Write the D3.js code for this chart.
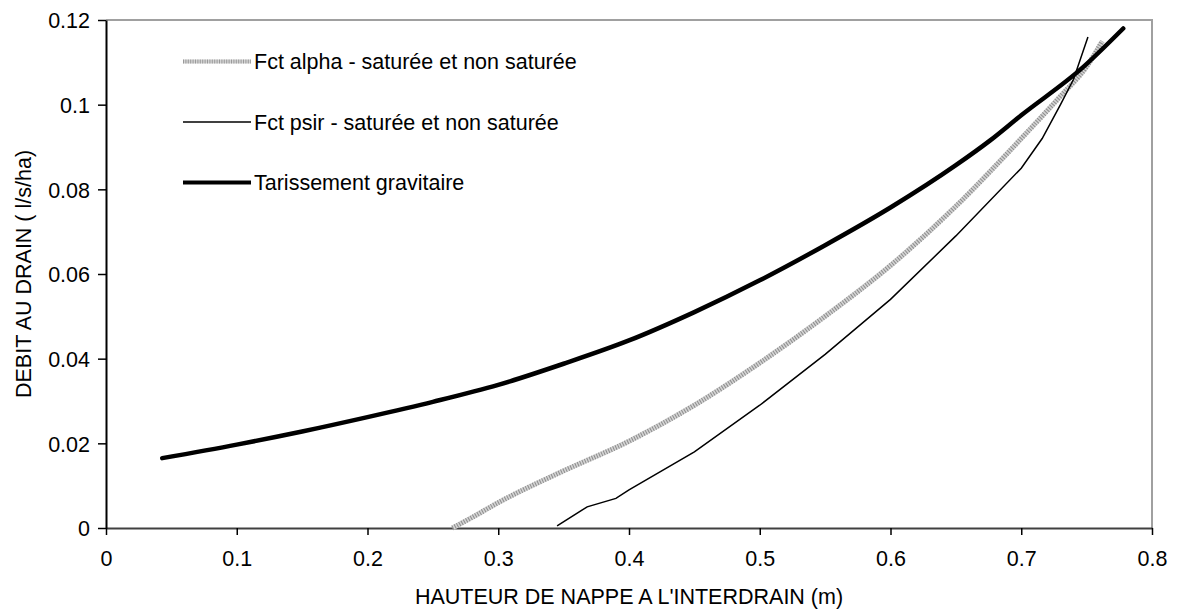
<!DOCTYPE html>
<html>
<head>
<meta charset="utf-8">
<script src="https://cdn.jsdelivr.net/npm/d3@7"></script>
<style>
  html, body { margin: 0; padding: 0; background: #fff; }
  svg { display: block; font-family: "Liberation Sans", Arial, sans-serif; }
</style>
</head>
<body>
<svg id="chart" width="1179" height="609"></svg>
<script>
// Water-table height at mid-drain (m) vs drain discharge (l/s/ha)
const alphaX = [0.265, 0.28, 0.30, 0.35, 0.40, 0.45, 0.50, 0.55, 0.60, 0.65, 0.70, 0.73, 0.75, 0.762];
const alphaY = [0.000, 0.0025, 0.006, 0.0135, 0.0205, 0.029, 0.039, 0.050, 0.062, 0.076, 0.092, 0.102, 0.109, 0.115];

const psirX = [0.345, 0.368, 0.390, 0.40, 0.45, 0.50, 0.55, 0.60, 0.65, 0.70, 0.716, 0.73, 0.74, 0.751];
const psirY = [0.0005, 0.005, 0.007, 0.009, 0.018, 0.029, 0.041, 0.054, 0.069, 0.085, 0.092, 0.100, 0.106, 0.116];

const gravX = [0.043, 0.10, 0.15, 0.20, 0.25, 0.30, 0.35, 0.40, 0.45, 0.50, 0.55, 0.60, 0.65, 0.676, 0.70, 0.746, 0.778];
const gravY = [0.0165, 0.0197, 0.0228, 0.0262, 0.0298, 0.0338, 0.0388, 0.0443, 0.051, 0.0585, 0.0668, 0.0757, 0.0857, 0.0915, 0.0975, 0.1085, 0.118];

const xTicks = [0, 0.1, 0.2, 0.3, 0.4, 0.5, 0.6, 0.7, 0.8];
const yTicks = [0, 0.02, 0.04, 0.06, 0.08, 0.1, 0.12];

const seriesNames = ["Fct alpha - saturée et non saturée", "Fct psir - saturée et non saturée", "Tarissement gravitaire"];
const xTitle = "HAUTEUR DE NAPPE A L'INTERDRAIN (m)";
const yTitle = "DEBIT AU DRAIN ( l/s/ha)";

const FONT = 21.5;
const svg = d3.select("#chart");
const plotL = 106, plotR = 1152, plotT = 20, plotB = 528;

const x = d3.scaleLinear().domain([0, 0.8]).range([plotL, plotR]);
const y = d3.scaleLinear().domain([0, 0.12]).range([plotB, plotT]);

// plot frame (top and right edges)
svg.append("path")
  .attr("d", `M${plotL},${plotT}H${plotR}V${plotB}`)
  .attr("fill", "none").attr("stroke", "#a0a0a0").attr("stroke-width", 2);

const fmt = d => d === 0 ? "0" : String(+d.toFixed(2));

const xAxis = svg.append("g").attr("transform", `translate(0,${plotB})`)
  .call(d3.axisBottom(x).tickValues(xTicks).tickFormat(fmt).tickSize(7).tickSizeOuter(0));
const yAxis = svg.append("g").attr("transform", `translate(${plotL},0)`)
  .call(d3.axisLeft(y).tickValues(yTicks).tickFormat(fmt).tickSize(8).tickSizeOuter(0));

[xAxis, yAxis].forEach(g => {
  g.selectAll(".tick line").attr("stroke", "#000").attr("stroke-width", 1.5);
  g.selectAll(".tick text").attr("fill", "#000").attr("font-size", FONT)
    .attr("font-family", "'Liberation Sans', Arial, sans-serif");
});
xAxis.select(".domain").attr("stroke", "#404040").attr("stroke-width", 2);
yAxis.select(".domain").attr("stroke", "#000").attr("stroke-width", 2);
xAxis.selectAll(".tick text").attr("y", 38).attr("dy", 0);
yAxis.selectAll(".tick text").attr("x", -16).attr("dy", "0.36em");

const line = d3.line().x(d => x(d[0])).y(d => y(d[1])).curve(d3.curveMonotoneX);
const zip = (a, b) => a.map((v, i) => [v, b[i]]);

// Fct alpha: hatched grey band
const alpha = zip(alphaX, alphaY);
svg.append("path").datum(alpha).attr("d", line)
  .attr("fill", "none").attr("stroke", "#d4d4d4").attr("stroke-width", 5);
svg.append("path").datum(alpha).attr("d", line)
  .attr("fill", "none").attr("stroke", "#8c8c8c").attr("stroke-width", 5)
  .attr("stroke-dasharray", "1,1.6");

// Fct psir: thin black
svg.append("path").datum(zip(psirX, psirY)).attr("d", d3.line().x(d => x(d[0])).y(d => y(d[1])))
  .attr("fill", "none").attr("stroke", "#000").attr("stroke-width", 1.5);

// Tarissement gravitaire: heavy black
svg.append("path").datum(zip(gravX, gravY)).attr("d", line)
  .attr("fill", "none").attr("stroke", "#000").attr("stroke-width", 4.5)
  .attr("stroke-linecap", "round");

// legend
const legY = [61.5, 122, 182.5];
const lg = svg.append("g");
lg.append("line").attr("x1", 183).attr("x2", 251).attr("y1", legY[0]).attr("y2", legY[0])
  .attr("stroke", "#d4d4d4").attr("stroke-width", 4);
lg.append("line").attr("x1", 183).attr("x2", 251).attr("y1", legY[0]).attr("y2", legY[0])
  .attr("stroke", "#9a9a9a").attr("stroke-width", 4).attr("stroke-dasharray", "1,1.4");
lg.append("line").attr("x1", 183).attr("x2", 251).attr("y1", legY[1]).attr("y2", legY[1])
  .attr("stroke", "#000").attr("stroke-width", 1.4);
lg.append("line").attr("x1", 183).attr("x2", 251).attr("y1", legY[2]).attr("y2", legY[2])
  .attr("stroke", "#000").attr("stroke-width", 4);
seriesNames.forEach((s, i) => {
  lg.append("text").attr("x", 254).attr("y", legY[i]).attr("dy", "0.36em")
    .attr("font-size", FONT).attr("fill", "#000").text(s);
});

// axis titles
svg.append("text").attr("x", (plotL + plotR) / 2).attr("y", 604)
  .attr("text-anchor", "middle").attr("font-size", FONT).attr("fill", "#000").text(xTitle);
svg.append("text").attr("transform", `translate(31,${(plotT + plotB) / 2}) rotate(-90)`)
  .attr("text-anchor", "middle").attr("font-size", FONT).attr("fill", "#000").text(yTitle);
</script>
</body>
</html>
